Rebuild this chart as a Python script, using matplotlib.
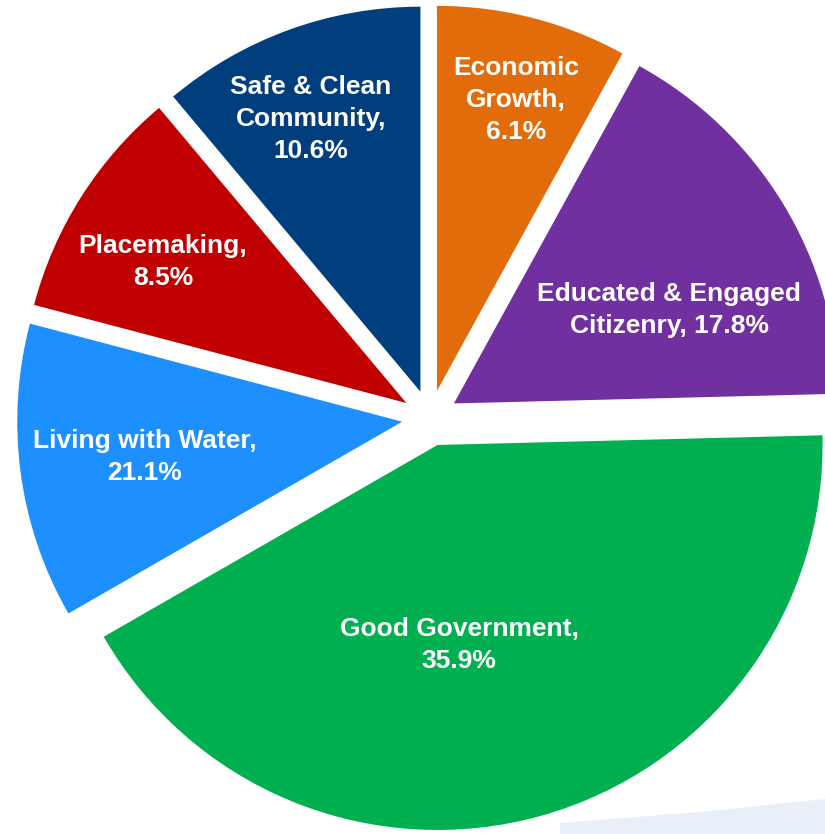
import numpy as np
import matplotlib.pyplot as plt
from matplotlib.patches import Polygon

# slices clockwise from 12 o'clock
categories = ["Economic Growth", "Educated & Engaged Citizenry", "Good Government",
              "Living with Water", "Placemaking", "Safe & Clean Community"]
label_pct = ["6.1%", "17.8%", "35.9%", "21.1%", "8.5%", "10.6%"]  # as printed
slice_share = [8.0, 16.6, 42.1, 12.4, 9.8, 11.1]  # angular share
colors = ["#E36C0A", "#7030A0", "#00B050", "#1E8FFF", "#C00000", "#003E7E"]
label_text = ["Economic\nGrowth,\n6.1%",
              "Educated & Engaged\nCitizenry, 17.8%",
              "Good Government,\n35.9%",
              "Living with Water,\n21.1%",
              "Placemaking,\n8.5%",
              "Safe & Clean\nCommunity,\n10.6%"]

W, H = 825, 834
fig = plt.figure(figsize=(W / 100, H / 100), dpi=100)
ax = fig.add_axes([0, 0, 1, 1])

# faint background swoosh at the bottom right
ax.add_patch(Polygon([(560, 11), (700, 22), (825, 35), (825, 0), (560, 0)],
                     closed=True, facecolor="#E8EFF8", edgecolor="none", zorder=0))

ax.pie(slice_share, colors=colors, startangle=90, counterclock=False,
       center=(430, 416), radius=385, explode=[28] * len(slice_share),
       wedgeprops=dict(linewidth=0), frame=False)

ax.set_xlim(0, W)
ax.set_ylim(0, H)
ax.set_aspect("equal")
ax.axis("off")

label_xy = [(516, 100), (669, 310), (459, 645), (145, 457), (163, 262), (311, 119)]
for txt, (lx, ly) in zip(label_text, label_xy):
    ax.text(lx, H - ly, txt, ha="center", va="center", color="white",
            fontsize=19, fontweight="bold", linespacing=1.42,
            family=["Liberation Sans Narrow", "Liberation Sans", "DejaVu Sans"], zorder=5)

plt.savefig("out.png", dpi=100)
